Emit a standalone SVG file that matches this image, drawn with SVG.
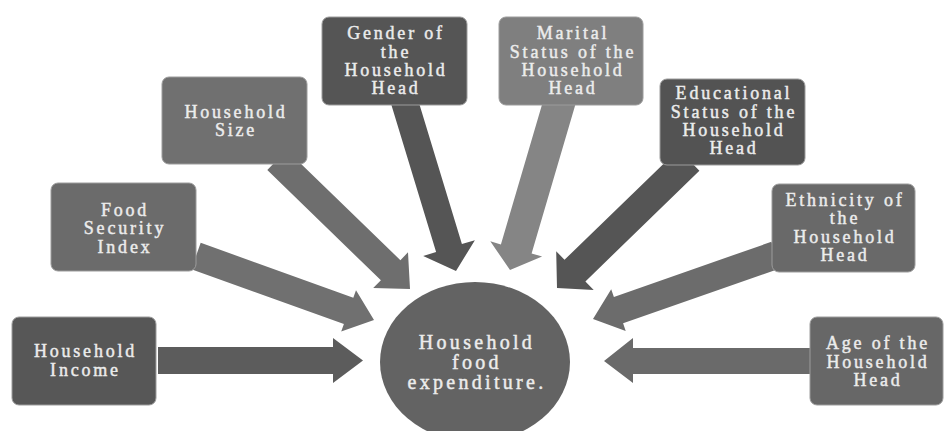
<svg xmlns="http://www.w3.org/2000/svg" width="945" height="431" viewBox="0 0 945 431">
<style>
.box{stroke:#9c9c9c;stroke-width:1}
.t{font-family:"Liberation Serif","Times New Roman",serif;font-size:18px;letter-spacing:2.8px;fill:#ececec;stroke:#ececec;stroke-width:0.45px;text-anchor:middle}
.tc{font-family:"Liberation Serif","Times New Roman",serif;font-size:20px;letter-spacing:3.3px;fill:#ececec;stroke:#ececec;stroke-width:0.45px;text-anchor:middle}
</style>
<rect width="945" height="431" fill="#ffffff"/>
<g id="connectors">
<polygon fill="#5c5c5c" points="158,347 333,347 333,338 363,360.5 333,383 333,374 158,374"/>
<polygon fill="#6a6a6a" points="810,348 633,348 633,338 604,361 633,383 633,374 810,374"/>
<polygon fill="#707070" points="200.7,242.8 353.3,297.7 356,290.2 374,320 341.2,331.6 343.9,324.1 191.3,269.2"/>
<polygon fill="#6e6e6e" points="267.3,170.1 380.9,280.3 373.2,288.1 410,289 408,252.3 400.4,260.2 286.7,149.9"/>
<polygon fill="#555555" points="391.1,103.9 436.1,252 423.2,255.9 456,271 474.9,240.2 461.9,244.1 416.9,96.1"/>
<polygon fill="#858585" points="544.7,95.5 500.9,244.4 490.3,241.3 510,270 542.1,256.5 531.6,253.4 575.4,104.5"/>
<polygon fill="#555555" points="678.6,149.2 564.5,259.8 556.2,251.2 557,288 593.7,290 585.4,281.4 699.4,170.8"/>
<polygon fill="#6c6c6c" points="771.4,241.8 613.9,296.9 611.2,289.3 593,319 625.7,330.9 623.1,323.3 780.6,268.2"/>
</g>
<g id="center">
<ellipse cx="475" cy="362" rx="95" ry="80" fill="#636363"/>
<text class="tc" x="477" y="349">Household</text>
<text class="tc" x="477" y="369">food</text>
<text class="tc" x="477" y="389">expenditure.</text>
</g>
<g id="income">
<rect class="box" x="12" y="317" width="144" height="88" rx="7" fill="#575757"/>
<text class="t" x="85.5" y="357">Household</text>
<text class="t" x="85.5" y="376">Income</text>
</g>
<g id="fsi">
<rect class="box" x="51" y="183" width="145" height="88" rx="7" fill="#6b6b6b"/>
<text class="t" x="125" y="216">Food</text>
<text class="t" x="125" y="234">Security</text>
<text class="t" x="125" y="253">Index</text>
</g>
<g id="size">
<rect class="box" x="162" y="77" width="145" height="87" rx="7" fill="#707070"/>
<text class="t" x="236" y="118">Household</text>
<text class="t" x="236" y="136">Size</text>
</g>
<g id="gender">
<rect class="box" x="322" y="17" width="145" height="88" rx="7" fill="#555555"/>
<text class="t" x="396" y="39">Gender of</text>
<text class="t" x="396" y="58">the</text>
<text class="t" x="396" y="76">Household</text>
<text class="t" x="396" y="94">Head</text>
</g>
<g id="marital">
<rect class="box" x="499" y="17" width="144" height="88" rx="7" fill="#7f7f7f"/>
<text class="t" x="573" y="39">Marital</text>
<text class="t" x="573" y="58">Status of the</text>
<text class="t" x="573" y="76">Household</text>
<text class="t" x="573" y="94">Head</text>
</g>
<g id="education">
<rect class="box" x="660" y="79" width="145" height="86" rx="7" fill="#535353"/>
<text class="t" x="734" y="99">Educational</text>
<text class="t" x="734" y="118">Status of the</text>
<text class="t" x="734" y="136">Household</text>
<text class="t" x="734" y="154">Head</text>
</g>
<g id="ethnicity">
<rect class="box" x="772" y="184" width="143" height="88" rx="7" fill="#696969"/>
<text class="t" x="845" y="206">Ethnicity of</text>
<text class="t" x="845" y="224">the</text>
<text class="t" x="845" y="243">Household</text>
<text class="t" x="845" y="261">Head</text>
</g>
<g id="age">
<rect class="box" x="810" y="317" width="133" height="88" rx="7" fill="#676767"/>
<text class="t" x="878" y="349">Age of the</text>
<text class="t" x="878" y="368">Household</text>
<text class="t" x="878" y="386">Head</text>
</g>
</svg>
